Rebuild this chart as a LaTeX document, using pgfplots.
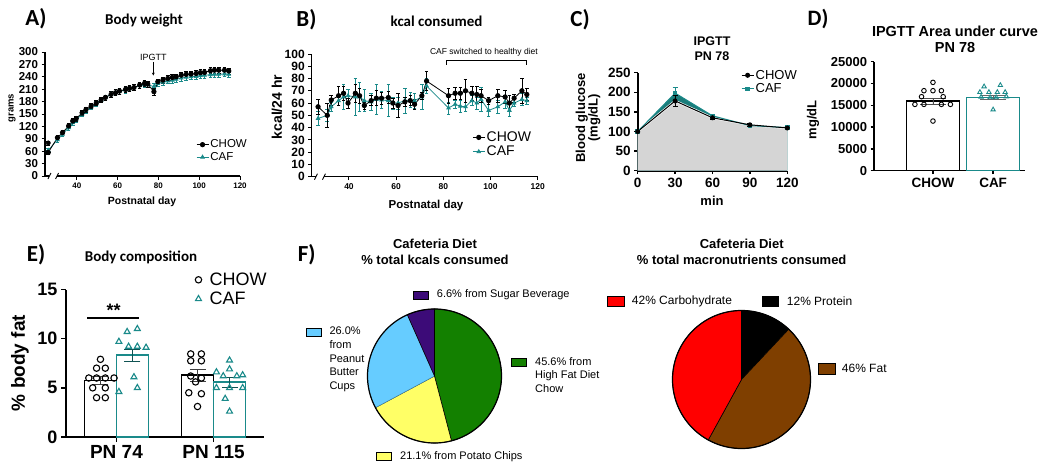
\documentclass[border=0pt]{standalone}
\usepackage{pgfplots}
\pgfplotsset{compat=1.18}
\usepackage{pgfplotstable}
\usepackage{fontspec}
\setmainfont{Liberation Sans}
\newfontfamily\calfont{Carlito}
\usetikzlibrary{arrows.meta}
\newcommand\fs[1]{\fontsize{#1bp}{#1bp}\selectfont}
\definecolor{cafc}{HTML}{1A8A8A}
\definecolor{cafdark}{HTML}{1B7C7A}
\definecolor{pgreen}{HTML}{138000}
\definecolor{pyellow}{HTML}{FFFF66}
\definecolor{pblue}{HTML}{66CCFF}
\definecolor{ppurple}{HTML}{3C0B78}
\definecolor{pbrown}{HTML}{7F3F00}
\definecolor{gfill}{HTML}{D5D5D5}

\pgfplotstableread{
d m e
26 57 5
30.5 92.7 5
33 105 5
36 121 6
38 133 6
39.7 139 6
42.6 153 6
44.5 161 6
47 169 6
49.5 176 6
51.9 184 6
54 190 6
56.8 197.5 7
59 201.5 7
60.9 205.5 7
63.9 209.5 7
65.8 212 7
68 214 7
70.8 220 7
73.2 224 7
74.8 222.5 7
77.8 204 8
79.7 228 7
82.2 232 7
84.6 236 7
86.8 238.5 7
88.7 240 7
91.2 244 7
93.6 246 7
96 246.6 7
98.5 248 7
100.6 250 7
102.6 250.7 7
105.5 254.7 7
107.5 256 7
109.6 256 7
112.4 256 7
114.5 254 7
}\Achow

\pgfplotstableread{
d m e
26 62 6
30.5 88 6
33 101 6
36 117 6
38 129 6
39.7 136 6
42.6 150 6
44.5 158 6
47 167 6
49.5 175 6
51.9 183 6
54 190 6
56.8 198 7
59 202 7
60.9 205 7
63.9 208 7
65.8 211 7
68 214 7
70.8 219 7
73.2 221 7
74.8 221 7
77.8 216 7
79.7 224 7
82.2 227 7
84.6 230 7
86.8 232 7
88.7 234 7
91.2 237 7
93.6 239 7
96 240 7
98.5 241 7
100.6 243 7
102.6 244 7
105.5 245 7
107.5 246 7
109.6 246 7
112.4 247 7
114.5 246 7
}\Acaf

\pgfplotstableread{
d m e
26.9 57 6
30.8 50 10
32.5 62.5 4
35.6 66 8
37.7 68 6
39.6 60 4
42.7 68 7
44.5 66 6
46.5 58 3
49.4 62 4
51.6 64 6
53.8 64 5
56.7 64.5 5
58.6 60 4
60.8 58 10
63.7 61 4
66 62 4
67.8 59 4
70.9 66 3
72.9 78 8
82.2 66 6
85 68 5
87.2 68 5
89.4 70 9
92.1 68 6
94.2 67 7
96 66 5
99.2 62 3
103.1 66 5
106.2 65 5
108 60 6
110 64 3
113.3 70 10
115.4 67 5
}\Bchow

\pgfplotstableread{
d m e
26.9 47.5 6
30.8 50 5
32.5 57 4
35.6 62 4
37.7 65 10
39.6 66 5
42.7 65 15
44.5 65 12
46.5 62 9
49.4 61 7
51.6 63 12
53.8 62.5 7
56.7 62 13
58.6 60 5
60.8 60 5
63.7 62 10
66 62.5 6
67.8 62 6
70.9 65 10
72.9 74 6
82.2 56 5
85 59 3
87.2 57.5 5
89.4 57 4
92.1 62 4
94.2 60 5
96 63 10
99.2 54 5
103.1 57 5
106.2 61 5
108 54 5
110 60 3
113.3 63 5
115.4 62 3
}\Bcaf

\pgfplotstableread{
d m e
0 100 2
30 178 15
60 135 5
90 117 4
120 109 3
}\Cchow

\pgfplotstableread{
d m e
0 100 2
30 198 15
60 140 4
90 115 3
120 110 3
}\Ccaf

\pgfplotsset{
  gp/.style={scale only axis, anchor=south west, axis lines=left,
    axis line style={-, line width=1.2bp},
    tick align=outside, major tick length=3.5bp, tick style={black, line width=1bp},
    clip=false, /pgf/number format/assume math mode=true,
    legend cell align=left,
    legend style={draw=none, fill=none, inner sep=0pt, anchor=north west, row sep=0bp, nodes={inner sep=1.5bp}},
    legend image code/.code={\draw[mark repeat=2,mark phase=2] plot coordinates {(0bp,0bp)(6bp,0bp)(12bp,0bp)};},
  },
  eb/.style={error bars/.cd, y dir=both, y explicit, error bar style={line width=0.7bp}, error mark options={rotate=90, mark size=#1, line width=0.7bp}},
  eb/.default=1.8bp,
}

\begin{document}
\begin{tikzpicture}
\path[use as bounding box] (0,0) rectangle (1050bp,-470bp);

% ---------------- A ----------------
\node[font=\calfont\bfseries\fs{23}] at (36bp,-19bp) {A)};
\node[font=\calfont\bfseries\fs{15}] at (144bp,-21bp) {Body weight};
\node[font=\bfseries\fs{9.5}, rotate=90] at (12bp,-108bp) {grams};
\node[font=\bfseries\fs{10.5}] at (142bp,-202bp) {Postnatal day};
\begin{axis}[gp, at={(45bp,-176bp)}, width=195bp, height=124bp,
  xmin=24.4, xmax=120, ymin=0, ymax=300,
  xtick={40,60,80,100,120}, ytick={0,30,...,300},
  x axis line style={draw=none},
  xticklabel style={font=\bfseries\fs{8}},
  yticklabel style={font=\bfseries\fs{11.5}},
  legend style={at={(0.774,0.305)}, font=\fs{11.5}},
]
\addplot[cafc, line width=0.8bp, mark=triangle*, mark size=2bp, forget plot, eb] table[x=d,y=m,y error=e] {\Acaf};
\addplot[black, line width=0.8bp, mark=*, mark size=2.2bp, eb] table[x=d,y=m,y error=e] {\Achow};
\addlegendentry{CHOW}
\addlegendimage{cafc, line width=0.8bp, mark=triangle*, mark size=2bp}
\addlegendentry{CAF}
\addplot[black, mark=*, mark size=2.2bp, forget plot, eb] coordinates {(26,80) +- (0,5)};
\draw[line width=1.2bp] (axis cs:24.4,0) -- (axis cs:26.6,0);
\draw[line width=1.2bp] (axis cs:30.3,0) -- (axis cs:120,0);
\draw[line width=0.9bp] (axis cs:26.6,0) ++(-1.5bp,-3bp) -- ++(3bp,6bp);
\draw[line width=0.9bp] (axis cs:30.3,0) ++(-1.5bp,-3bp) -- ++(3bp,6bp);
\node[font=\fs{9}] at (axis cs:77.5,288) {IPGTT};
\draw[-{Stealth[length=3bp,width=3bp]}, line width=0.7bp] (axis cs:77.5,276) -- (axis cs:77.5,243);
\end{axis}

% ---------------- B ----------------
\node[font=\calfont\bfseries\fs{23}] at (306.5bp,-20bp) {B)};
\node[font=\calfont\bfseries\fs{15}] at (436.5bp,-21bp) {kcal consumed};
\node[font=\bfseries\fs{14}, rotate=90] at (277bp,-107bp) {kcal/24 hr};
\node[font=\bfseries\fs{11.5}] at (426bp,-206bp) {Postnatal day};
\begin{axis}[gp, at={(311.7bp,-176.7bp)}, width=226bp, height=122.7bp,
  xmin=24.2, xmax=120, ymin=0, ymax=100,
  xtick={40,60,80,100,120}, ytick={0,10,...,100},
  x axis line style={draw=none},
  xticklabel style={font=\bfseries\fs{8.5}},
  yticklabel style={font=\bfseries\fs{12}},
  legend style={at={(0.71,0.38)}, font=\fs{14}},
]
\addplot[cafc, line width=0.8bp, mark=triangle*, mark size=2bp, forget plot, eb] table[x=d,y=m,y error=e] {\Bcaf};
\addplot[black, line width=0.8bp, mark=*, mark size=2.2bp, eb] table[x=d,y=m,y error=e] {\Bchow};
\addlegendentry{CHOW}
\addlegendimage{cafc, line width=0.8bp, mark=triangle*, mark size=2bp}
\addlegendentry{CAF}
\draw[line width=1.2bp] (axis cs:24.2,0) -- (axis cs:26.0,0);
\draw[line width=1.2bp] (axis cs:29.4,0) -- (axis cs:120,0);
\draw[line width=0.9bp] (axis cs:26.0,0) ++(-1.5bp,-3bp) -- ++(3bp,6bp);
\draw[line width=0.9bp] (axis cs:29.4,0) ++(-1.5bp,-3bp) -- ++(3bp,6bp);
\node[font=\fs{8.5}] at (axis cs:97.2,101.4) {CAF switched to healthy diet};
\draw[line width=0.8bp] (axis cs:81.2,91.4) -- (axis cs:81.2,94.5) -- (axis cs:115.1,94.5) -- (axis cs:115.1,91.4);
\end{axis}

% ---------------- C ----------------
\node[font=\calfont\bfseries\fs{23}] at (580bp,-19.5bp) {C)};
\node[font=\bfseries\fs{12.5}] at (712bp,-41bp) {IPGTT};
\node[font=\bfseries\fs{12.5}] at (712bp,-56bp) {PN 78};
\node[font=\bfseries\fs{13}, rotate=90] at (581.7bp,-118bp) {Blood glucose};
\node[font=\bfseries\fs{13}, rotate=90] at (594.3bp,-118bp) {(mg/dL)};
\node[font=\bfseries\fs{13}] at (712bp,-201bp) {min};
\begin{axis}[gp, at={(637.7bp,-170.7bp)}, width=149.6bp, height=98bp,
  xmin=0, xmax=120, ymin=0, ymax=250,
  xtick={0,30,60,90,120}, ytick={0,50,...,250},
  axis line style={-, line width=1.6bp}, tick style={black, line width=1.4bp},
  ticklabel style={font=\bfseries\fs{13.5}},
  legend style={at={(0.69,1.045)}, font=\fs{13}},
]
\addplot[fill=cafdark, draw=none, forget plot] table[x=d,y=m] {\Ccaf} \closedcycle;
\addplot[fill=gfill, draw=none, forget plot] table[x=d,y=m] {\Cchow} \closedcycle;
\addplot[white, line width=2.2bp, forget plot] table[x=d,y=m] {\Cchow};
\addplot[cafc, line width=1bp, mark=square*, mark size=1.8bp, forget plot, eb=2.5bp] table[x=d,y=m,y error=e] {\Ccaf};
\addplot[black, line width=1bp, mark=*, mark size=2bp, eb=2.5bp] table[x=d,y=m,y error=e] {\Cchow};
\addlegendentry{CHOW}
\addlegendimage{cafc, line width=1bp, mark=square*, mark size=1.8bp}
\addlegendentry{CAF}
\end{axis}

% ---------------- D ----------------
\node[font=\calfont\bfseries\fs{22}] at (818bp,-19.5bp) {D)};
\node[font=\bfseries\fs{14.5}] at (955bp,-31bp) {IPGTT Area under curve};
\node[font=\bfseries\fs{14.5}] at (955bp,-47.5bp) {PN 78};
\node[font=\bfseries\fs{13}, rotate=90] at (813bp,-120bp) {mg/dL};
\begin{axis}[gp, at={(874bp,-170.7bp)}, width=151bp, height=109bp,
  xmin=-0.98, xmax=1.53, ymin=0, ymax=25000,
  xtick={0,1}, xticklabels={CHOW,CAF}, ytick={0,5000,10000,15000,20000,25000},
  scaled y ticks=false,
  axis line style={-, line width=1.5bp}, tick style={black, line width=1.3bp},
  yticklabel style={font=\bfseries\fs{13}, /pgf/number format/1000 sep={}},
  xticklabel style={font=\bfseries\fs{13.5}},
]
\addplot[ybar, bar width=0.88, bar shift=0pt, draw=black, fill=white, line width=1.4bp, eb=13bp, error bar style={black!70, line width=0.8bp}] coordinates {(0,16000) +- (0,700)};
\addplot[ybar, bar width=0.88, bar shift=0pt, draw=cafc, fill=white, line width=1.4bp, eb=13bp, error bar style={black!60, line width=0.8bp}] coordinates {(1,16800) +- (0,500)};
\addplot[only marks, mark=o, mark size=2.3bp, line width=0.9bp, black] coordinates {
(0,20260) (-0.15,18350) (0,18350) (0.14,18350) (-0.19,16970) (0.17,16970)
(-0.3,15210) (-0.15,15210) (0.14,15210) (0.29,15210) (0,11390)};
\addplot[only marks, mark=triangle, mark size=2.5bp, line width=0.9bp, cafc] coordinates {
(0.85,19300) (1.12,19600) (0.78,18000) (0.93,18000) (1.07,18000) (1.2,18000)
(0.8,16900) (0.95,16800) (1.05,16800) (1.22,17000) (1.0,14000)};
\end{axis}

% ---------------- E ----------------
\node[font=\calfont\bfseries\fs{23}] at (36bp,-255bp) {E)};
\node[font=\calfont\bfseries\fs{15}] at (141bp,-257bp) {Body composition};
\node[font=\bfseries\fs{19}, rotate=90] at (20bp,-363bp) {\% body fat};
\begin{axis}[gp, at={(66bp,-437bp)}, width=198bp, height=147.5bp,
  xmin=-0.52, xmax=1.52, ymin=0, ymax=15,
  xtick={0,1}, xticklabels={PN 74,PN 115}, ytick={0,5,10,15},
  axis line style={-, line width=1.8bp}, tick style={black, line width=1.6bp}, major tick length=5bp,
  xticklabel style={font=\bfseries\fs{19}},
  yticklabel style={font=\bfseries\fs{18}},
  legend style={at={(0.63,1.125)}, font=\fs{18}, row sep=2bp},
  legend image code/.code={\path (-1bp,0bp) (15bp,0bp); \draw[mark repeat=2,mark phase=2] plot coordinates {(0bp,0bp)(6bp,0bp)(12bp,0bp)};},
]
\addplot[ybar, bar width=0.33, bar shift=0pt, draw=black, fill=white, line width=1.8bp, forget plot, eb=8bp, error bar style={black!75, line width=0.9bp}] coordinates {(-0.165,5.75) +- (0,0.4) (0.835,6.3) +- (0,0.6)};
\addplot[ybar, bar width=0.33, bar shift=0pt, draw=cafc, fill=white, line width=1.8bp, forget plot, eb=8bp, error bar style={cafc!60!black, line width=0.9bp}] coordinates {(0.165,8.3) +- (0,0.6) (1.165,5.6) +- (0,0.5)};
\addplot[only marks, mark=o, mark size=3.2bp, line width=1.1bp, black] coordinates {
(-0.165,7.9) (-0.205,7.0) (-0.115,7.0) (-0.285,6.0) (-0.205,6.0) (-0.115,6.0) (-0.025,6.0)
(-0.245,5.0) (-0.115,5.0) (-0.205,4.0) (-0.115,4.0)
(0.765,8.45) (0.875,8.45) (0.765,7.75) (0.875,7.75) (0.765,6.2) (0.875,6.0) (0.815,5.6)
(0.745,4.5) (0.875,4.4) (0.835,3.1)};
\addlegendentry{CHOW}
\addplot[only marks, mark=triangle, mark size=3.4bp, line width=1.1bp, cafc] coordinates {
(0.215,11.0) (0.11,10.7) (0.025,9.7) (0.125,9.2) (0.215,9.2) (0.305,9.1)
(0.18,6.1) (0.025,4.6) (0.215,5.0)
(1.165,7.8) (1.165,6.9) (1.03,6.6) (1.3,6.3) (1.1,6.2) (1.24,6.2)
(1.03,5.0) (1.165,5.0) (1.3,5.0) (1.12,3.9) (1.165,2.6)};
\addlegendentry{CAF}
\draw[line width=1.5bp] (axis cs:-0.3,12.1) -- (axis cs:0.237,12.1);
\node[font=\bfseries\fs{18}] at (axis cs:-0.03,12.9) {**};
\end{axis}

% ---------------- F ----------------
\node[font=\calfont\bfseries\fs{23}] at (306.7bp,-255bp) {F)};
\node[font=\bfseries\fs{13}] at (435bp,-243.5bp) {Cafeteria Diet};
\node[font=\bfseries\fs{13}] at (435bp,-259.5bp) {\% total kcals consumed};
\begin{axis}[at={(434.5bp,-376bp)}, anchor=center, scale only axis, width=134bp, height=134bp,
  xmin=-1, xmax=1, ymin=-1, ymax=1, hide axis, clip=false]
\filldraw[fill=pgreen, draw=black, line width=0.6bp] (axis cs:0,0) -- ++(90:67bp) arc[start angle=90, end angle={90-45.6/99.3*360}, radius=67bp] -- cycle;
\filldraw[fill=pyellow, draw=black, line width=0.6bp] (axis cs:0,0) -- ++({90-45.6/99.3*360}:67bp) arc[start angle={90-45.6/99.3*360}, end angle={90-(45.6+21.1)/99.3*360}, radius=67bp] -- cycle;
\filldraw[fill=pblue, draw=pblue!70!black, line width=0.4bp] (axis cs:0,0) -- ++({90-(45.6+21.1)/99.3*360}:67bp) arc[start angle={90-(45.6+21.1)/99.3*360}, end angle={90-(45.6+21.1+26.0)/99.3*360}, radius=67bp] -- cycle;
\filldraw[fill=ppurple, draw=black, line width=0.6bp] (axis cs:0,0) -- ++({90-(45.6+21.1+26.0)/99.3*360}:67bp) arc[start angle={90-(45.6+21.1+26.0)/99.3*360}, end angle=-270, radius=67bp] -- cycle;
\draw[line width=1.2bp] (axis cs:0,0) circle[radius=67bp];
\end{axis}
\draw[fill=ppurple, line width=0.8bp] (413.3bp,-291bp) rectangle (428.3bp,-299.3bp);
\node[anchor=west, font=\fs{11}, inner sep=0pt] at (436.7bp,-295bp) {6.6\% from Sugar Beverage};
\draw[fill=pblue, line width=0.8bp] (306bp,-328.3bp) rectangle (321.7bp,-336bp);
\node[anchor=north west, align=left, font=\fontsize{11bp}{13.6bp}\selectfont, inner sep=0pt] at (329.3bp,-327bp) {26.0\%\\from\\Peanut\\Butter\\Cups};
\draw[fill=pgreen, line width=0.8bp] (511.7bp,-358.3bp) rectangle (526.7bp,-366.7bp);
\node[anchor=north west, align=left, font=\fontsize{11bp}{13.8bp}\selectfont, inner sep=0pt] at (535bp,-357bp) {45.6\% from\\High Fat Diet\\Chow};
\draw[fill=pyellow, line width=0.8bp] (376.7bp,-452.7bp) rectangle (391.7bp,-460.7bp);
\node[anchor=west, font=\fs{11}, inner sep=0pt] at (400bp,-456.7bp) {21.1\% from Potato Chips};

\node[font=\bfseries\fs{13}] at (741.7bp,-243.5bp) {Cafeteria Diet};
\node[font=\bfseries\fs{13}] at (741.7bp,-259.5bp) {\% total macronutrients consumed};
\begin{axis}[at={(741.5bp,-379.5bp)}, anchor=center, scale only axis, width=138bp, height=138bp,
  xmin=-1, xmax=1, ymin=-1, ymax=1, hide axis, clip=false]
\filldraw[fill=black, draw=black, line width=0.6bp] (axis cs:0,0) -- ++(90:69bp) arc[start angle=90, end angle={90-12/100*360}, radius=69bp] -- cycle;
\filldraw[fill=pbrown, draw=black, line width=0.6bp] (axis cs:0,0) -- ++({90-12/100*360}:69bp) arc[start angle={90-12/100*360}, end angle={90-(12+46)/100*360}, radius=69bp] -- cycle;
\filldraw[fill=red, draw=black, line width=0.6bp] (axis cs:0,0) -- ++({90-(12+46)/100*360}:69bp) arc[start angle={90-(12+46)/100*360}, end angle=-270, radius=69bp] -- cycle;
\draw[line width=1.2bp] (axis cs:0,0) circle[radius=69bp];
\end{axis}
\draw[fill=red, line width=0.8bp] (607.3bp,-296bp) rectangle (624bp,-306.7bp);
\node[anchor=west, font=\fs{12}, inner sep=0pt] at (631.7bp,-301bp) {42\% Carbohydrate};
\draw[fill=black, line width=0.8bp] (762.7bp,-296bp) rectangle (778.3bp,-306.7bp);
\node[anchor=west, font=\fs{12}, inner sep=0pt] at (786.7bp,-301bp) {12\% Protein};
\draw[fill=pbrown, line width=0.8bp] (818.3bp,-363.3bp) rectangle (835bp,-374bp);
\node[anchor=west, font=\fs{12}, inner sep=0pt] at (841.7bp,-368.5bp) {46\% Fat};
\end{tikzpicture}
\end{document}
